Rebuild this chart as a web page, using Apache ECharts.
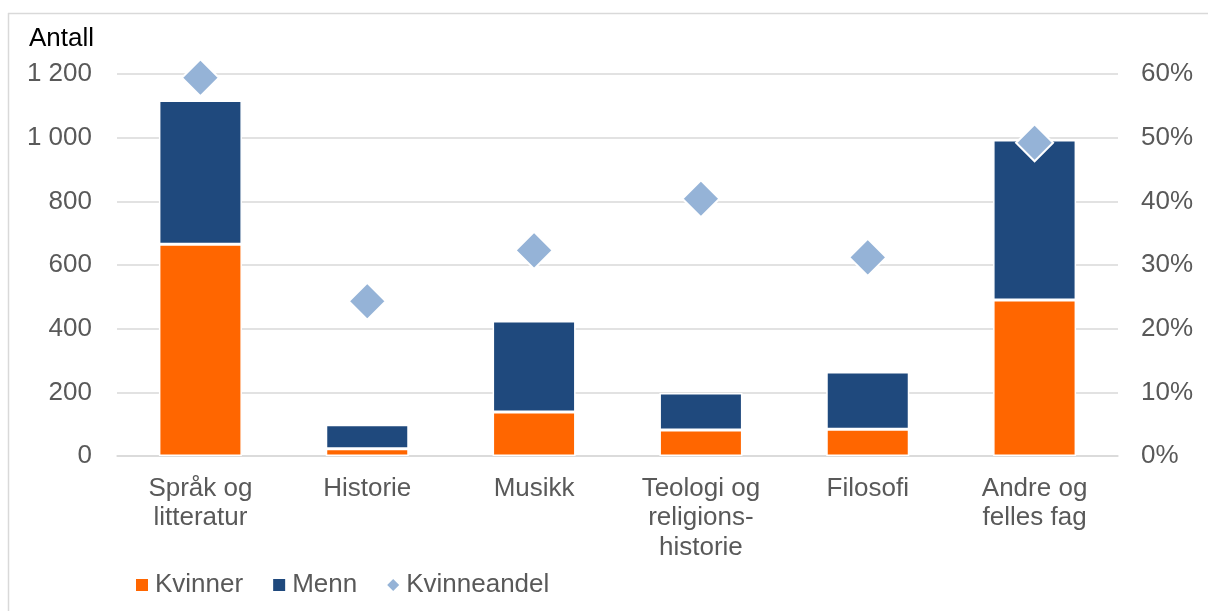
<!DOCTYPE html>
<html>
<head>
<meta charset="utf-8">
<script src="https://cdn.jsdelivr.net/npm/echarts@6/dist/echarts.min.js"></script>
<style>
html,body{margin:0;padding:0;background:#fff;}
#c{width:1208px;height:611px;}
</style>
</head>
<body>
<div id="c"></div>
<script>
var categories = ['Språk og\nlitteratur', 'Historie', 'Musikk', 'Teologi og\nreligions-\nhistorie', 'Filosofi', 'Andre og\nfelles fag'];
var kvinner = [665, 23, 138, 82, 84, 490];
var menn = [452, 75, 286, 116, 180, 503];
var kvinneandel = [59.4, 24.3, 32.3, 40.4, 31.2, 49.2];
var leftTicks = [0, 200, 400, 600, 800, 1000, 1200];
var rightTicks = [0, 10, 20, 30, 40, 50, 60];

var FONT = '"Liberation Sans", Arial, sans-serif';
var FS = 26;
var chart = echarts.init(document.getElementById('c'), null, {renderer: 'canvas'});
chart.setOption({
  animation: false,
  backgroundColor: '#ffffff',
  grid: {left: 117, right: 90, top: 74, bottom: 155, containLabel: false},
  graphic: [
    {type: 'line', shape: {x1: 8, y1: 13.5, x2: 1300, y2: 13.5}, style: {stroke: '#d9d9d9', lineWidth: 1.5}},
    {type: 'line', shape: {x1: 8.5, y1: 13, x2: 8.5, y2: 700}, style: {stroke: '#d9d9d9', lineWidth: 1.5}},
    {type: 'text', left: 29, top: 26, style: {text: 'Antall', fontFamily: FONT, fontSize: FS, fill: '#000000'}}
  ],
  legend: {
    left: 136, top: 572, padding: 0,
    itemGap: 30, itemWidth: 12, itemHeight: 12,
    textStyle: {fontFamily: FONT, fontSize: FS, color: '#595959', padding: [0, 0, 0, 2]},
    data: [
      {name: 'Kvinner', icon: 'rect', itemStyle: {borderWidth: 0}},
      {name: 'Menn', icon: 'rect', itemStyle: {borderWidth: 0}},
      {name: 'Kvinneandel', icon: 'diamond', itemStyle: {borderWidth: 0}}
    ]
  },
  xAxis: {
    type: 'category',
    data: categories,
    axisLine: {show: true, lineStyle: {color: '#d9d9d9', width: 1.5}},
    axisTick: {show: false},
    axisLabel: {fontFamily: FONT, fontSize: FS, color: '#595959', lineHeight: 29.5, margin: 18, interval: 0}
  },
  yAxis: [
    {
      type: 'value', min: 0, max: 1200, interval: 200,
      axisLine: {show: false}, axisTick: {show: false},
      splitLine: {lineStyle: {color: '#d9d9d9', width: 1.5}},
      axisLabel: {fontFamily: FONT, fontSize: FS, color: '#595959', margin: 25,
        formatter: function (v) { return String(v).replace(/\B(?=(\d{3})+(?!\d))/g, ' '); }}
    },
    {
      type: 'value', min: 0, max: 60, interval: 10,
      axisLine: {show: false}, axisTick: {show: false},
      splitLine: {show: false},
      axisLabel: {fontFamily: FONT, fontSize: FS, color: '#595959', margin: 23,
        formatter: function (v) { return v + '%'; }}
    }
  ],
  series: [
    {
      name: 'Kvinner', type: 'bar', stack: 'tot', data: kvinner, barWidth: 83,
      itemStyle: {color: '#FF6600', borderColor: '#ffffff', borderWidth: 1.5}
    },
    {
      name: 'Menn', type: 'bar', stack: 'tot', data: menn, barWidth: 83,
      itemStyle: {color: '#1F497D', borderColor: '#ffffff', borderWidth: 1.5}
    },
    {
      name: 'Kvinneandel', type: 'scatter', yAxisIndex: 1, data: kvinneandel,
      symbol: 'diamond', symbolSize: 37, z: 5,
      itemStyle: {color: '#95B3D7', borderColor: '#ffffff', borderWidth: 2, opacity: 1}
    }
  ]
});
</script>
</body>
</html>
